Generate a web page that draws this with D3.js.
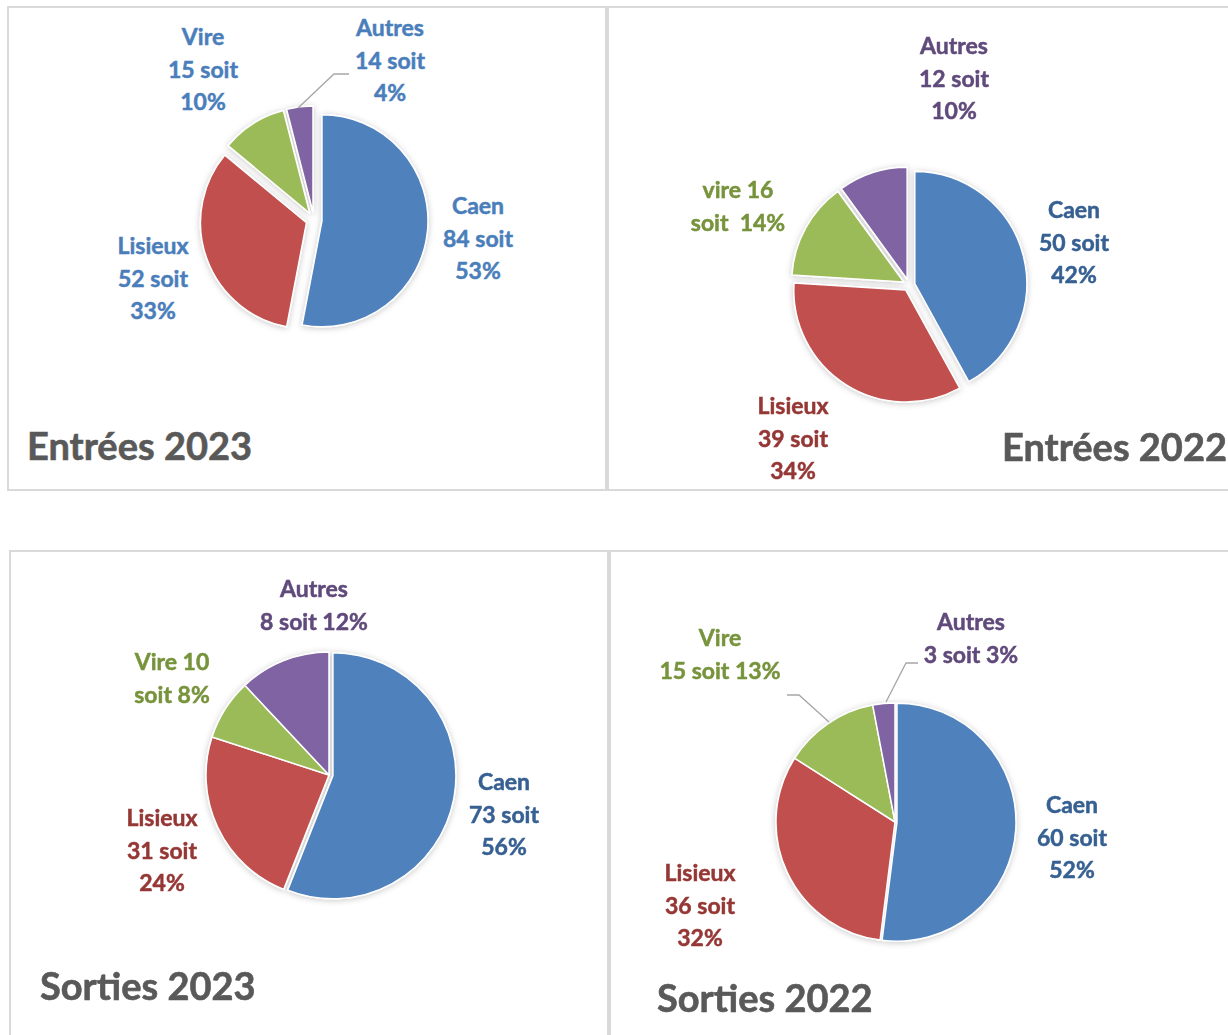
<!DOCTYPE html>
<html>
<head>
<meta charset="utf-8">
<script src="https://cdn.jsdelivr.net/npm/d3@7"></script>
<style>
  body { margin: 0; background: #fff; }
  text { font-family: Lato, "Open Sans", sans-serif; font-weight: 700; white-space: pre; }
</style>
</head>
<body>
<svg id="chart" width="1228" height="1035"></svg>
<script>
// categories and values
var categories = ["Caen", "Lisieux", "Vire", "Autres"];
var sliceColors = ["#4F81BD", "#C0504D", "#9BBB59", "#8064A2"];
var labelColors = ["#376092", "#953735", "#77933C", "#604A7B"];

var entrees2023Count = [84, 52, 15, 14];
var entrees2023Pct = [53, 33, 10, 4];
var entrees2022Count = [50, 39, 16, 12];
var entrees2022Pct = [42, 34, 14, 10];
var sorties2023Count = [73, 31, 10, 8];
var sorties2023Pct = [56, 24, 8, 12];
var sorties2022Count = [60, 36, 15, 3];
var sorties2022Pct = [52, 32, 13, 3];

var titles = ["Entrées 2023", "Entrées 2022", "Sorties 2023", "Sorties 2022"];

// label text patterns: how each label breaks into lines
function threeLines(name, n, p) { return [name, n + " soit", p + "%"]; }
function nameThenAll(name, n, p) { return [name, n + " soit " + p + "%"]; }
function nameCountThenPct(name, n, p) { return [name + " " + n, "soit " + p + "%"]; }
function nameCountThenPctWide(name, n, p) { return [name + " " + n, "soit  " + p + "%"]; }

var panels = [
  {
    box: [8, 7, 598, 483], title: titles[0], titleX: 27, titleY: 446, titleAnchor: "start",
    counts: entrees2023Count, pcts: entrees2023Pct, names: categories,
    cx: 314, cy: 220, r: 106, explode: [8, 8, 8, 8],
    labelColor: function(i) { return "#4A7EBB"; },
    labels: [
      {x: 478, y: 206, fmt: threeLines},
      {x: 153, y: 246, fmt: threeLines},
      {x: 203, y: 37, fmt: threeLines},
      {x: 390, y: 28, fmt: threeLines}
    ],
    leaders: [null, null, null, [[298, 108], [334, 74], [349, 74]]]
  },
  {
    box: [608, 7, 640, 483], title: titles[1], titleX: 1227, titleY: 447, titleAnchor: "end",
    counts: entrees2022Count, pcts: entrees2022Pct, names: ["Caen", "Lisieux", "vire", "Autres"],
    cx: 909, cy: 285, r: 112, explode: [6, 6, 6, 6],
    labelColor: function(i) { return labelColors[i]; },
    labels: [
      {x: 1074, y: 210, fmt: threeLines},
      {x: 793, y: 406, fmt: threeLines},
      {x: 738, y: 190, fmt: nameCountThenPctWide},
      {x: 954, y: 46, fmt: threeLines}
    ],
    leaders: [null, null, null, null]
  },
  {
    box: [10, 551, 598, 500], title: titles[2], titleX: 40, titleY: 986, titleAnchor: "start",
    counts: sorties2023Count, pcts: sorties2023Pct, names: categories,
    cx: 329, cy: 775, r: 123, explode: [4, 0, 0, 0],
    labelColor: function(i) { return labelColors[i]; },
    labels: [
      {x: 504, y: 782, fmt: threeLines},
      {x: 162, y: 818, fmt: threeLines},
      {x: 172, y: 662, fmt: nameCountThenPct},
      {x: 314, y: 589, fmt: nameThenAll}
    ],
    leaders: [null, null, null, null]
  },
  {
    box: [610, 551, 640, 500], title: titles[3], titleX: 657, titleY: 998, titleAnchor: "start",
    counts: sorties2022Count, pcts: sorties2022Pct, names: categories,
    cx: 895, cy: 822, r: 119, explode: [2, 0, 0, 0],
    labelColor: function(i) { return labelColors[i]; },
    labels: [
      {x: 1072, y: 805, fmt: threeLines},
      {x: 700, y: 873, fmt: threeLines},
      {x: 720, y: 638, fmt: nameThenAll},
      {x: 971, y: 622, fmt: nameThenAll}
    ],
    leaders: [null, null, [[787, 695], [799, 695], [829, 722]], [[886, 702], [906, 663], [918, 663]]]
  }
];

var svg = d3.select("#chart");
var lineHeight = 32.5;

var defs = svg.append("defs");
var shadow = defs.append("filter")
                 .attr("id", "pieShadow")
                 .attr("x", "-20%").attr("y", "-20%")
                 .attr("width", "140%").attr("height", "140%");
shadow.append("feDropShadow")
      .attr("dx", 0).attr("dy", 1)
      .attr("stdDeviation", 3)
      .attr("flood-color", "#000")
      .attr("flood-opacity", 0.22);

var pie = d3.pie().sort(null).value(function(d) { return d.pct; });

function DrawPanel(p)
{
  var g = svg.append("g");

  g.append("rect")
   .attr("x", p.box[0]).attr("y", p.box[1])
   .attr("width", p.box[2]).attr("height", p.box[3])
   .attr("fill", "none")
   .attr("stroke", "#d9d9d9")
   .attr("stroke-width", 2);

  var data = p.names.map(function(name, i) {
    return {name: name, count: p.counts[i], pct: p.pcts[i], idx: i};
  });

  var arc = d3.arc().innerRadius(0).outerRadius(p.r);

  var slices = g.append("g")
                .attr("transform", "translate(" + p.cx + "," + p.cy + ")")
                .attr("filter", "url(#pieShadow)");

  slices.selectAll("path")
        .data(pie(data))
        .enter().append("path")
        .attr("d", arc)
        .attr("transform", function(d) {
          var mid = (d.startAngle + d.endAngle) / 2;
          var off = p.explode[d.data.idx];
          return "translate(" + (Math.sin(mid) * off) + "," + (-Math.cos(mid) * off) + ")";
        })
        .attr("fill", function(d) { return sliceColors[d.data.idx]; })
        .attr("stroke", "#fff")
        .attr("stroke-width", 1.5)
        .attr("stroke-linejoin", "round");

  // leader lines
  p.leaders.forEach(function(pts) {
    if(!pts) return;
    g.append("path")
     .attr("d", d3.line()(pts))
     .attr("fill", "none")
     .attr("stroke", "#a6a6a6")
     .attr("stroke-width", 1.3);
  });

  // data labels (thin stroke in the same colour to get closer to the heavy original face)
  data.forEach(function(d, i) {
    var lab = p.labels[i];
    var lines = lab.fmt(d.name, d.count, d.pct);
    var col = p.labelColor(i);
    var t = g.append("text")
             .attr("text-anchor", "middle")
             .attr("font-size", 23)
             .attr("fill", col)
             .attr("stroke", col)
             .attr("stroke-width", 0.5);
    lines.forEach(function(line, k) {
      t.append("tspan")
       .attr("x", lab.x)
       .attr("y", lab.y + k * lineHeight)
       .attr("dy", "0.36em")
       .text(line);
    });
  });

  g.append("text")
   .attr("x", p.titleX)
   .attr("y", p.titleY)
   .attr("dy", "0.36em")
   .attr("text-anchor", p.titleAnchor)
   .attr("font-size", 38)
   .attr("fill", "#595959")
   .attr("stroke", "#595959")
   .attr("stroke-width", 0.6)
   .text(p.title);
}

panels.forEach(DrawPanel);
</script>
</body>
</html>
